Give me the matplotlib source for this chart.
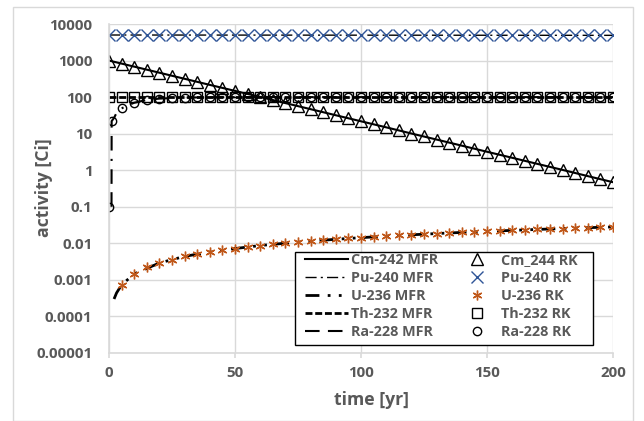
import matplotlib
matplotlib.use("Agg")
import matplotlib.pyplot as plt
from matplotlib.patches import Rectangle
from matplotlib.ticker import FixedLocator, FixedFormatter, NullLocator

# RK time points (every 5 yr)
t_rk = [0, 5, 10, 15, 20, 25, 30, 35, 40, 45, 50, 55, 60, 65, 70, 75, 80, 85, 90, 95, 100,
        105, 110, 115, 120, 125, 130, 135, 140, 145, 150, 155, 160, 165, 170, 175, 180, 185, 190, 195, 200]

cm244_rk = [1000, 826, 682, 563, 465, 384, 317, 262, 216, 179, 148, 122, 101, 83, 68.6, 56.7, 46.8,
            38.7, 31.9, 26.4, 21.8, 18.0, 14.9, 12.3, 10.1, 8.4, 6.9, 5.7, 4.7, 3.9, 3.2, 2.65,
            2.19, 1.81, 1.49, 1.23, 1.02, 0.84, 0.69, 0.57, 0.47]
pu240_rk = [5000, 4997, 4995, 4992, 4990, 4987, 4985, 4982, 4979, 4976, 4974, 4971, 4969, 4966,
            4963, 4961, 4958, 4955, 4953, 4950, 4948, 4945, 4942, 4940, 4937, 4934, 4932, 4929,
            4927, 4924, 4921, 4919, 4916, 4914, 4911, 4908, 4906, 4903, 4901, 4898, 4896]
th232_rk = [100, 100, 100, 100, 100, 100, 100, 100, 100, 100, 100, 100, 100, 100, 100, 100, 100,
            100, 100, 100, 100, 100, 100, 100, 100, 100, 100, 100, 100, 100, 100, 100, 100, 100,
            100, 100, 100, 100, 100, 100, 100]

t_u_rk = t_rk[1:]
u236_rk = [0.00073, 0.00146, 0.0022, 0.0029, 0.0036, 0.0044, 0.0051, 0.0058, 0.0065, 0.0072,
           0.0079, 0.0087, 0.0094, 0.0101, 0.0108, 0.0115, 0.0122, 0.0129, 0.0136, 0.0143,
           0.0150, 0.0157, 0.0164, 0.0171, 0.0178, 0.0185, 0.0192, 0.0199, 0.0206, 0.0213,
           0.0220, 0.0226, 0.0233, 0.0240, 0.0247, 0.0254, 0.0261, 0.0268, 0.0275, 0.0281]

t_ra_rk = [0, 1, 5, 10, 15, 20, 25, 30, 35, 40, 45, 50, 55, 60, 65, 70, 75, 80, 85, 90, 95, 100,
           105, 110, 115, 120, 125, 130, 135, 140, 145, 150, 155, 160, 165, 170, 175, 180, 185, 190, 195, 200]
ra228_rk = [0.1, 22, 49, 70, 84, 91, 95, 97, 98.5, 99, 99.5, 100, 100, 100, 100, 100, 100, 100,
            100, 100, 100, 100, 100, 100, 100, 100, 100, 100, 100, 100, 100, 100, 100, 100, 100,
            100, 100, 100, 100, 100, 100, 100]

# MFR curves
t_mfr = [0, 10, 20, 30, 40, 50, 60, 70, 80, 90, 100, 110, 120, 130, 140, 150, 160, 170, 180, 190, 200]
cm242_mfr = [1000, 682, 465, 317, 216, 148, 101, 68.6, 46.8, 31.9, 21.8, 14.9, 10.1, 6.9, 4.7,
             3.2, 2.19, 1.49, 1.02, 0.69, 0.47]
pu240_mfr = [5000, 4995, 4990, 4985, 4979, 4974, 4969, 4963, 4958, 4953, 4948, 4942, 4937, 4932,
             4927, 4921, 4916, 4911, 4906, 4901, 4896]
th232_mfr = [100, 100, 100, 100, 100, 100, 100, 100, 100, 100, 100, 100, 100, 100, 100, 100, 100,
             100, 100, 100, 100]
t_u_mfr = [2, 3, 5, 10, 20, 30, 40, 50, 60, 70, 80, 90, 100, 110, 120, 130, 140, 150, 160, 170, 180, 190, 200]
u236_mfr = [0.0003, 0.00044, 0.00073, 0.00146, 0.0029, 0.0044, 0.0058, 0.0072, 0.0087, 0.0101,
            0.0115, 0.0129, 0.0143, 0.0157, 0.0171, 0.0185, 0.0199, 0.0213, 0.0226, 0.0240,
            0.0254, 0.0268, 0.0281]
t_ra_mfr = [1, 1.05, 2, 3, 5, 7, 10, 15, 20, 30, 40, 50, 60, 80, 100, 150, 200]
ra228_mfr = [0.1, 22, 27, 37, 49, 58, 70, 84, 91, 97, 99, 99.7, 100, 100, 100, 100, 100]

yticks = [0.00001, 0.0001, 0.001, 0.01, 0.1, 1, 10, 100, 1000, 10000]
ylabels = ["0.00001", "0.0001", "0.001", "0.01", "0.1", "1", "10", "100", "1000", "10000"]
xticks = [0, 50, 100, 150, 200]

gray = "#595959"
grid = "#d9d9d9"
plt.rcParams['font.family'] = ['Open Sans', 'DejaVu Sans']
plt.rcParams['font.weight'] = 'bold'

W, H = 644, 421
fig = plt.figure(figsize=(6.44, 4.21), dpi=100)
fig.patches.append(Rectangle((13/W, 0.0), 620/W, 1 - 7/H, transform=fig.transFigure,
                             fill=False, edgecolor=grid, linewidth=1))
ax = fig.add_axes([109/W, 1 - 353/H, 504/W, 329/H])

# MFR lines
l1, = ax.plot(t_mfr, cm242_mfr, color="black", lw=1.5, label="Cm-242 MFR")
l2, = ax.plot(t_mfr, pu240_mfr, color="black", lw=1.0, dashes=(8, 3, 1.5, 3), label="Pu-240 MFR")
l3, = ax.plot(t_u_mfr, u236_mfr, color="black", lw=2.0, dashes=(5, 3, 1, 3, 1, 3), label="U-236 MFR")
l4, = ax.plot(t_mfr, th232_mfr, color="black", lw=2.0, dashes=(2.5, 1), label="Th-232 MFR")
l5, = ax.plot(t_ra_mfr, ra228_mfr, color="black", lw=1.5, dashes=(7, 4, 7, 4, 1, 4), label="Ra-228 MFR")

# RK markers
m1, = ax.plot(t_rk, cm244_rk, ls="none", marker="^", ms=9, mfc="none", mec="black", mew=1.0, label="Cm_244 RK")
m2, = ax.plot(t_rk, pu240_rk, ls="none", marker="x", ms=9, mec="#2f5597", mew=1.0, label="Pu-240 RK")
m3, = ax.plot(t_u_rk, u236_rk, ls="none", marker=(6, 2, 0), ms=7, mec="#c0581a", mew=1.0, label="U-236 RK")
m4, = ax.plot(t_rk, th232_rk, ls="none", marker="s", ms=7, mfc="none", mec="black", mew=1.0, label="Th-232 RK")
m5, = ax.plot(t_ra_rk, ra228_rk, ls="none", marker="o", ms=6, mfc="none", mec="black", mew=1.0, label="Ra-228 RK")

ax.set_yscale("log")
ax.set_ylim(0.00001, 10000)
ax.set_xlim(0, 200)
ax.yaxis.set_major_locator(FixedLocator(yticks))
ax.yaxis.set_major_formatter(FixedFormatter(ylabels))
ax.yaxis.set_minor_locator(NullLocator())
ax.set_xticks(xticks)
ax.set_axisbelow(True)
ax.grid(True, color=grid, lw=1)

for s in ["top", "right"]:
    ax.spines[s].set_visible(False)
ax.spines["left"].set_color(grid)
ax.spines["bottom"].set_color(grid)
ax.spines["left"].set_linewidth(1.2)
ax.spines["bottom"].set_linewidth(1.2)
ax.tick_params(axis="y", length=0, pad=12, labelsize=10.9, labelcolor=gray)
ax.tick_params(axis="x", length=3.5, width=1.2, color=grid, pad=6, labelsize=10.9, labelcolor=gray)

fig.text(44/W, 1 - 188/H, "activity [Ci]", rotation=90, ha="center", va="center",
         fontsize=12.7, color=gray, fontweight="bold")
fig.text(372/W, 1 - 400/H, "time [yr]", ha="center", va="center",
         fontsize=12.7, color=gray, fontweight="bold")

# legend box drawn by hand so its padding matches
ax.add_patch(Rectangle(((295 - 109)/504, (353 - 345)/329), 298/504, 93/329, transform=ax.transAxes,
                       facecolor="white", edgecolor="black", lw=1.0, zorder=4))
leg = ax.legend(handles=[l1, l2, l3, l4, l5, m1, m2, m3, m4, m5], ncol=2, loc="upper left",
                bbox_to_anchor=((305 - 109)/504, (353 - 253)/329), fontsize=10.4, frameon=False,
                handlelength=3.0, labelspacing=0.28, columnspacing=1.15, handletextpad=0.2,
                borderpad=0, borderaxespad=0)
leg.set_zorder(5)
for txt in leg.get_texts():
    txt.set_color(gray)

fig.savefig("out.png", dpi=100)
